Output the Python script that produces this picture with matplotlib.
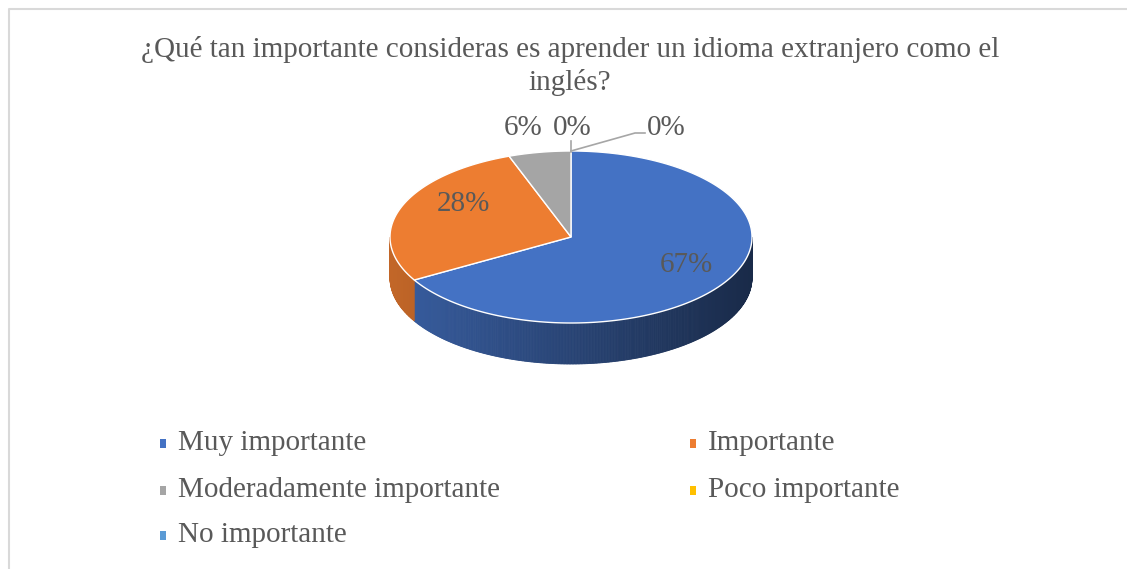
import matplotlib.pyplot as plt
import matplotlib.patches as mpatches
import numpy as np
from matplotlib.colors import to_rgb

plt.rcParams['font.family'] = ['Liberation Serif', 'DejaVu Serif']

# datos (respuestas)
categorias = ['Muy importante', 'Importante', 'Moderadamente importante',
              'Poco importante', 'No importante']
valores = [24, 10, 2, 0, 0]
colores = ['#4472C4', '#ED7D31', '#A5A5A5', '#FFC000', '#5B9BD5']
titulo = '¿Qué tan importante consideras es aprender un idioma extranjero como el\ninglés?'

W, H = 1127, 569
fig = plt.figure(figsize=(W / 100, H / 100), dpi=100)
ax = fig.add_axes([0, 0, 1, 1])
ax.set_xlim(0, W)
ax.set_ylim(H, 0)
ax.axis('off')

# borde del gráfico
ax.plot([8.5, 8.5, W], [H, 8.5, 8.5], color='#D9D9D9', lw=1.5, zorder=1)

txt_color = '#595959'
ax.text(570, 66, titulo, ha='center', va='center', fontsize=21,
        color=txt_color, linespacing=1.3)

# geometría del pastel 3D
cx, cy, rx, ry, depth = 571, 237, 181, 86, 41
total = sum(valores)
fracs = np.array(valores) / total
bordes = np.concatenate([[0], np.cumsum(fracs)]) * 2 * np.pi  # sentido horario desde arriba


def punto(t):
    return cx + rx * np.sin(t), cy - ry * np.cos(t)


# caras laterales (solo mitad frontal)
for i, (a0, a1) in enumerate(zip(bordes[:-1], bordes[1:])):
    lo, hi = max(a0, np.pi / 2), min(a1, 3 * np.pi / 2)
    if hi <= lo:
        continue
    ts = np.linspace(lo, hi, max(int((hi - lo) * 120), 2))
    base = np.array(to_rgb(colores[i]))
    for t0, t1 in zip(ts[:-1], ts[1:]):
        x0, y0 = punto(t0)
        x1, y1 = punto(t1)
        f = 0.82 - 0.45 * ((x0 + x1) / 2 - (cx - rx)) / (2 * rx)
        poly = mpatches.Polygon([[x0, y0], [x1, y1], [x1, y1 + depth], [x0, y0 + depth]],
                                closed=True, facecolor=base * f, edgecolor=base * f,
                                lw=0.6, zorder=2)
        ax.add_patch(poly)

# cara superior
for i, (a0, a1) in enumerate(zip(bordes[:-1], bordes[1:])):
    if a1 - a0 <= 0:
        continue
    ts = np.linspace(a0, a1, max(int((a1 - a0) * 80), 2))
    pts = [[cx, cy]] + [list(punto(t)) for t in ts]
    ax.add_patch(mpatches.Polygon(pts, closed=True, facecolor=colores[i],
                                  edgecolor='white', lw=1.0, zorder=3))

# etiquetas de porcentaje
etiq = [f'{f * 100:.0f}%' for f in fracs]
pos_etiq = [(686, 265), (463, 204), (523, 128), (572, 128), (666, 128)]
for (x, y), s in zip(pos_etiq, etiq):
    ax.text(x, y, s, ha='center', va='center', fontsize=21, color=txt_color, zorder=5)

# líneas guía de las etiquetas 0%
ax.plot([571, 571], [141, 152], color='#A6A6A6', lw=1.2, zorder=4)
ax.plot([571, 635, 645], [151, 133, 133], color='#A6A6A6', lw=1.2, zorder=4)

# leyenda
col_x = [160, 690]
fila_y = [443, 490, 535]
for i, (lab, c) in enumerate(zip(categorias, colores)):
    x = col_x[i % 2]
    y = fila_y[i // 2]
    ax.add_patch(mpatches.Rectangle((x, y - 4.5), 6, 9, facecolor=c, edgecolor='none'))
    ax.text(x + 18, y, lab, ha='left', va='center', fontsize=21, color=txt_color)

fig.savefig('out.png', dpi=100)
